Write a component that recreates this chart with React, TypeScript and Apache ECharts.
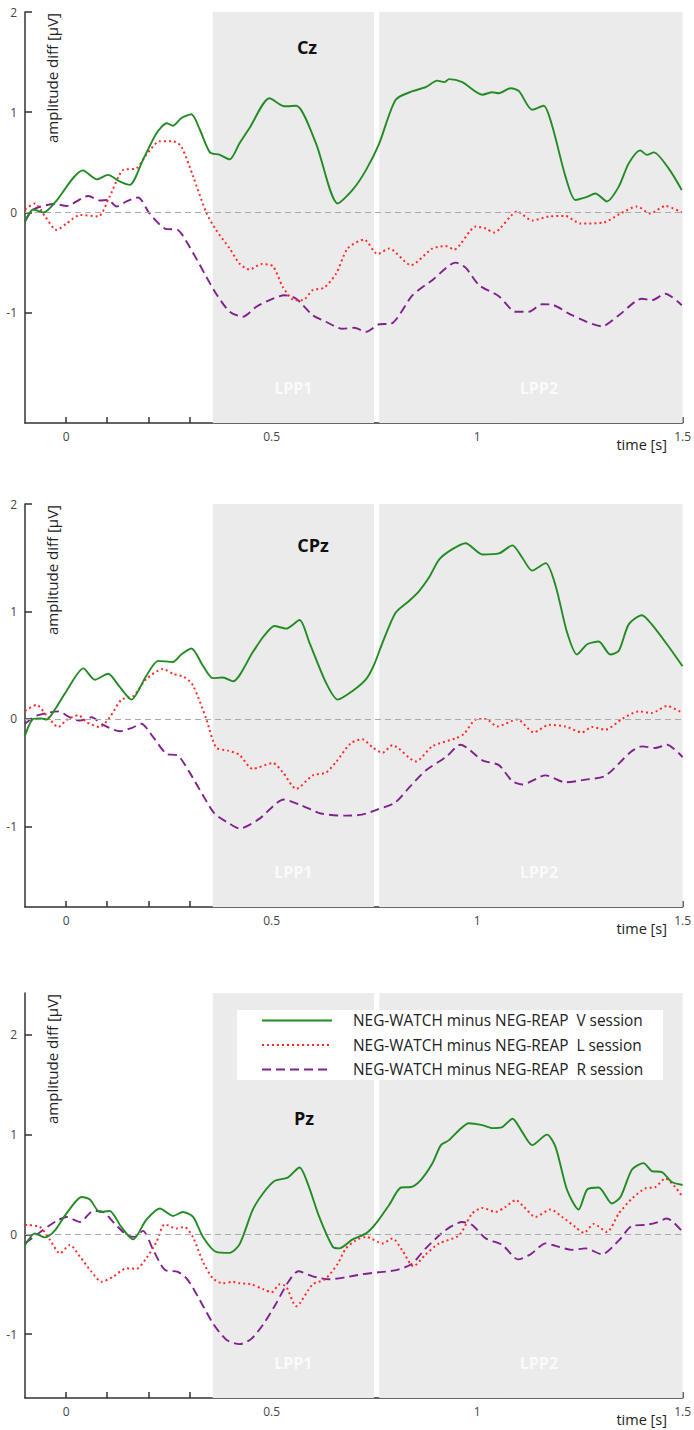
import React, { useEffect, useRef } from 'react';
import * as echarts from 'echarts';

const seriesNames = [
  'NEG-WATCH minus NEG-REAP  V session',
  'NEG-WATCH minus NEG-REAP  L session',
  'NEG-WATCH minus NEG-REAP  R session',
];
const panelTitles = ['Cz', 'CPz', 'Pz'];
const xTickValues = [0, 0.1, 0.2, 0.3, 0.4, 0.5, 0.6, 0.7, 0.8, 0.9, 1, 1.1, 1.2, 1.3, 1.4, 1.5];
const xLabelValues = [0, 0.5, 1, 1.5];
const yLabelValues = [-1, 0, 1, 2];
const lppNames = ['LPP1', 'LPP2'];
const lppStarts = [0.357, 0.762];
const lppEnds = [0.749, 1.5];

// Cz
const czV = [[-0.1,-0.09],[-0.08,0.03],[-0.055,0.0],[-0.027,0.1],[0.041,0.42],[0.075,0.33],[0.102,0.375],[0.13,0.31],[0.155,0.275],[0.187,0.525],[0.22,0.79],[0.245,0.89],[0.26,0.865],[0.28,0.94],[0.305,0.98],[0.325,0.83],[0.35,0.6],[0.374,0.575],[0.398,0.53],[0.422,0.69],[0.446,0.84],[0.495,1.14],[0.531,1.06],[0.56,1.065],[0.608,0.69],[0.661,0.09],[0.697,0.225],[0.73,0.425],[0.762,0.69],[0.802,1.125],[0.843,1.21],[0.875,1.25],[0.903,1.315],[0.92,1.3],[0.932,1.33],[0.964,1.3],[1.013,1.175],[1.037,1.2],[1.053,1.19],[1.082,1.24],[1.102,1.21],[1.134,1.025],[1.162,1.065],[1.183,0.86],[1.215,0.36],[1.239,0.125],[1.264,0.15],[1.288,0.19],[1.316,0.11],[1.345,0.26],[1.369,0.49],[1.397,0.62],[1.413,0.575],[1.43,0.6],[1.466,0.44],[1.498,0.225]];
const czL = [[-0.1,0.03],[-0.076,0.09],[-0.051,-0.04],[-0.023,-0.175],[0.001,-0.11],[0.034,-0.025],[0.078,-0.04],[0.106,0.16],[0.139,0.425],[0.171,0.44],[0.195,0.575],[0.228,0.71],[0.26,0.71],[0.28,0.66],[0.309,0.36],[0.341,0.0],[0.365,-0.175],[0.398,-0.36],[0.422,-0.51],[0.446,-0.57],[0.475,-0.515],[0.503,-0.535],[0.527,-0.74],[0.555,-0.875],[0.576,-0.875],[0.6,-0.775],[0.628,-0.75],[0.657,-0.61],[0.685,-0.36],[0.725,-0.27],[0.758,-0.415],[0.786,-0.36],[0.839,-0.525],[0.891,-0.36],[0.924,-0.335],[0.944,-0.37],[0.997,-0.14],[1.021,-0.16],[1.041,-0.2],[1.098,0.01],[1.134,-0.08],[1.175,-0.04],[1.215,-0.035],[1.251,-0.11],[1.308,-0.1],[1.349,-0.01],[1.389,0.06],[1.421,-0.01],[1.458,0.065],[1.498,0.0]];
const czR = [[-0.1,-0.09],[-0.08,0.03],[-0.027,0.085],[0.001,0.065],[0.054,0.165],[0.082,0.12],[0.102,0.125],[0.123,0.06],[0.147,0.11],[0.175,0.15],[0.203,-0.01],[0.24,-0.16],[0.272,-0.175],[0.3,-0.34],[0.341,-0.64],[0.365,-0.81],[0.398,-0.99],[0.43,-1.04],[0.463,-0.94],[0.495,-0.875],[0.531,-0.825],[0.56,-0.86],[0.6,-1.025],[0.632,-1.09],[0.673,-1.16],[0.701,-1.15],[0.73,-1.19],[0.762,-1.115],[0.79,-1.11],[0.843,-0.825],[0.891,-0.675],[0.948,-0.5],[0.972,-0.55],[1.005,-0.725],[1.053,-0.835],[1.094,-0.99],[1.126,-0.99],[1.158,-0.915],[1.183,-0.92],[1.231,-1.025],[1.304,-1.135],[1.345,-1.025],[1.401,-0.86],[1.425,-0.875],[1.458,-0.81],[1.498,-0.925]];

// CPz
const cpzV = [[-0.1,-0.155],[-0.08,0.0],[-0.062,0.005],[-0.047,-0.005],[-0.027,0.09],[0.001,0.26],[0.042,0.47],[0.07,0.365],[0.102,0.42],[0.131,0.295],[0.159,0.18],[0.195,0.4],[0.224,0.54],[0.26,0.53],[0.28,0.6],[0.305,0.655],[0.333,0.495],[0.357,0.38],[0.381,0.385],[0.406,0.35],[0.454,0.62],[0.479,0.76],[0.507,0.865],[0.535,0.84],[0.568,0.92],[0.592,0.71],[0.632,0.34],[0.661,0.18],[0.697,0.26],[0.73,0.37],[0.75,0.51],[0.77,0.71],[0.802,0.99],[0.835,1.1],[0.859,1.19],[0.883,1.315],[0.908,1.485],[0.94,1.58],[0.972,1.635],[1.013,1.53],[1.053,1.54],[1.086,1.615],[1.11,1.5],[1.134,1.38],[1.167,1.45],[1.191,1.24],[1.219,0.805],[1.243,0.6],[1.268,0.695],[1.296,0.72],[1.324,0.6],[1.345,0.635],[1.369,0.88],[1.401,0.965],[1.425,0.88],[1.462,0.695],[1.5,0.49]];
const cpzL = [[-0.1,0.075],[-0.072,0.13],[-0.047,0.03],[-0.019,-0.075],[0.001,-0.01],[0.03,0.035],[0.05,-0.03],[0.082,-0.075],[0.106,0.015],[0.135,0.18],[0.163,0.21],[0.195,0.37],[0.236,0.465],[0.26,0.42],[0.288,0.39],[0.309,0.31],[0.341,0.0],[0.365,-0.265],[0.394,-0.295],[0.422,-0.335],[0.454,-0.465],[0.503,-0.41],[0.527,-0.495],[0.56,-0.65],[0.6,-0.525],[0.632,-0.5],[0.657,-0.4],[0.693,-0.225],[0.721,-0.19],[0.746,-0.265],[0.77,-0.315],[0.794,-0.245],[0.851,-0.395],[0.891,-0.255],[0.948,-0.18],[0.968,-0.14],[0.997,-0.005],[1.021,0.0],[1.049,-0.07],[1.098,-0.005],[1.138,-0.125],[1.175,-0.055],[1.215,-0.07],[1.255,-0.125],[1.28,-0.075],[1.312,-0.1],[1.353,0.0],[1.393,0.07],[1.425,0.055],[1.462,0.12],[1.5,0.055]];
const cpzR = [[-0.1,-0.045],[-0.072,0.03],[-0.019,0.07],[0.009,0.015],[0.034,-0.015],[0.062,0.015],[0.09,-0.055],[0.131,-0.115],[0.159,-0.085],[0.183,-0.045],[0.212,-0.17],[0.244,-0.325],[0.272,-0.34],[0.3,-0.495],[0.333,-0.71],[0.361,-0.88],[0.398,-0.975],[0.422,-1.02],[0.47,-0.93],[0.53,-0.75],[0.57,-0.8],[0.62,-0.88],[0.68,-0.9],[0.72,-0.89],[0.76,-0.84],[0.8,-0.78],[0.839,-0.62],[0.875,-0.48],[0.924,-0.355],[0.96,-0.24],[1.013,-0.385],[1.053,-0.43],[1.086,-0.58],[1.11,-0.61],[1.167,-0.525],[1.215,-0.59],[1.264,-0.565],[1.312,-0.53],[1.373,-0.31],[1.401,-0.255],[1.434,-0.27],[1.462,-0.24],[1.5,-0.355]];

// Pz
const pzV = [[-0.1,-0.11],[-0.076,0.01],[-0.051,-0.03],[-0.027,0.04],[0.001,0.21],[0.038,0.375],[0.058,0.35],[0.082,0.225],[0.106,0.235],[0.135,0.07],[0.163,-0.05],[0.195,0.145],[0.228,0.26],[0.26,0.185],[0.284,0.225],[0.309,0.175],[0.333,-0.025],[0.365,-0.175],[0.398,-0.185],[0.422,-0.1],[0.454,0.245],[0.479,0.41],[0.507,0.535],[0.539,0.57],[0.568,0.67],[0.588,0.51],[0.616,0.175],[0.649,-0.125],[0.665,-0.14],[0.697,-0.05],[0.73,0.01],[0.754,0.11],[0.786,0.295],[0.815,0.47],[0.839,0.475],[0.863,0.545],[0.891,0.71],[0.912,0.895],[0.932,0.945],[0.956,1.045],[0.98,1.115],[1.013,1.095],[1.037,1.065],[1.061,1.075],[1.086,1.16],[1.11,1.025],[1.134,0.895],[1.17,1.0],[1.191,0.875],[1.219,0.445],[1.247,0.25],[1.268,0.45],[1.296,0.47],[1.328,0.31],[1.349,0.375],[1.377,0.65],[1.405,0.715],[1.425,0.635],[1.45,0.625],[1.474,0.525],[1.5,0.495]];
const pzL = [[-0.1,0.095],[-0.064,0.075],[-0.039,-0.055],[-0.015,-0.19],[0.009,-0.105],[0.034,-0.225],[0.062,-0.375],[0.086,-0.475],[0.114,-0.425],[0.147,-0.34],[0.171,-0.345],[0.195,-0.24],[0.22,-0.075],[0.24,0.1],[0.268,0.06],[0.288,0.075],[0.309,-0.03],[0.333,-0.275],[0.357,-0.44],[0.381,-0.49],[0.406,-0.475],[0.422,-0.49],[0.45,-0.5],[0.48,-0.55],[0.5,-0.58],[0.52,-0.5],[0.535,-0.52],[0.56,-0.72],[0.6,-0.5],[0.63,-0.45],[0.66,-0.3],[0.681,-0.14],[0.705,-0.06],[0.73,-0.025],[0.77,-0.09],[0.794,-0.04],[0.818,-0.16],[0.845,-0.32],[0.875,-0.2],[0.908,-0.09],[0.956,-0.01],[0.988,0.21],[1.013,0.265],[1.045,0.225],[1.069,0.275],[1.094,0.345],[1.114,0.275],[1.142,0.175],[1.179,0.25],[1.207,0.175],[1.239,0.075],[1.26,0.015],[1.284,0.105],[1.316,0.025],[1.345,0.21],[1.377,0.36],[1.409,0.46],[1.434,0.475],[1.458,0.56],[1.482,0.475],[1.5,0.375]];
const pzR = [[-0.1,-0.09],[-0.056,0.045],[-0.023,0.135],[0.001,0.175],[0.034,0.125],[0.066,0.235],[0.09,0.225],[0.118,0.11],[0.147,-0.005],[0.167,-0.025],[0.187,0.035],[0.212,-0.155],[0.24,-0.355],[0.272,-0.375],[0.296,-0.455],[0.325,-0.655],[0.357,-0.89],[0.39,-1.055],[0.422,-1.1],[0.45,-1.05],[0.48,-0.9],[0.51,-0.7],[0.54,-0.48],[0.565,-0.37],[0.6,-0.42],[0.64,-0.45],[0.68,-0.43],[0.72,-0.4],[0.76,-0.38],[0.8,-0.36],[0.84,-0.3],[0.875,-0.14],[0.924,0.045],[0.964,0.125],[0.988,0.095],[1.021,-0.04],[1.061,-0.105],[1.1,-0.25],[1.13,-0.2],[1.167,-0.09],[1.191,-0.115],[1.231,-0.155],[1.264,-0.14],[1.304,-0.2],[1.345,-0.06],[1.377,0.085],[1.409,0.095],[1.434,0.115],[1.462,0.16],[1.5,0.025]];

const panelData = [[czV, czL, czR], [cpzV, cpzL, cpzR], [pzV, pzL, pzR]];
const yMins = [-2.1, -1.75, -1.64];
const yMaxs = [2, 2, 2.42];

const FONT = '"Open Sans", "Noto Sans", sans-serif';
const gridTops = [12, 504, 993];
const gridHeights = [411, 403, 405];
const titlePos = [[307, 47], [313, 545], [304, 1118]];
const lineStyles = [
  { color: '#238b23', width: 1.9, type: 'solid' },
  { color: '#ff2a2a', width: 2, type: [2, 3] },
  { color: '#82208f', width: 1.9, type: [9, 5] },
];

export default function App() {
  const ref = useRef<HTMLDivElement>(null);
  useEffect(() => {
    if (!ref.current) return;
    const chart = echarts.init(ref.current, null, { renderer: 'svg' });
    const grid = gridTops.map((t, i) => ({ left: 25, top: t, width: 659, height: gridHeights[i] }));
    const xAxis = gridTops.map((_, i) => ({
      type: 'value', gridIndex: i, min: -0.1, max: 1.5,
      axisLine: { show: true, onZero: false, lineStyle: { color: '#333', width: 1.5 } },
      axisTick: { show: true, inside: true, length: 6, customValues: xTickValues, lineStyle: { color: '#333', width: 1.5 } },
      axisLabel: { customValues: xLabelValues, color: '#444', fontSize: 12, fontFamily: FONT, margin: 7,
        formatter: (v: number) => String(Math.round(v * 10) / 10) },
      splitLine: { show: false },
    }));
    const yAxis = gridTops.map((_, i) => ({
      type: 'value', gridIndex: i, min: yMins[i], max: yMaxs[i],
      axisLine: { show: true, onZero: false, lineStyle: { color: '#333', width: 1.5 } },
      axisTick: { show: true, inside: true, length: 7, customValues: yLabelValues, lineStyle: { color: '#333', width: 1.5 } },
      axisLabel: { customValues: yLabelValues, color: '#444', fontSize: 12, fontFamily: FONT, margin: 8 },
      splitLine: { show: false },
    }));
    const series: any[] = [];
    panelData.forEach((sets, i) => {
      series.push({
        type: 'line', xAxisIndex: i, yAxisIndex: i, data: [], z: 1, silent: true,
        markArea: {
          silent: true,
          itemStyle: { color: '#ebebeb' },
          label: { show: true, position: 'insideBottom', distance: 27, color: '#fafafa', fontWeight: 'bold', fontSize: 16, fontFamily: FONT },
          data: lppNames.map((n, k) => [
            { xAxis: lppStarts[k], name: n, label: k === 1 ? { offset: [8, 0] } : {} },
            { xAxis: lppEnds[k] },
          ]),
        },
        markLine: {
          silent: true, symbol: ['none', 'none'],
          lineStyle: { color: '#aaaaaa', width: 1, type: [6, 4] },
          label: { show: false },
          data: [{ yAxis: 0 }],
        },
      });
      sets.forEach((d, k) => {
        series.push({
          type: 'line', name: seriesNames[k], xAxisIndex: i, yAxisIndex: i, data: d,
          symbol: 'none', showSymbol: false, smooth: 0.25, z: 3 + (2 - k),
          lineStyle: lineStyles[k], itemStyle: { color: lineStyles[k].color },
        });
      });
    });
    const graphic: any[] = [];
    panelTitles.forEach((t, i) => {
      graphic.push({ type: 'text', x: titlePos[i][0], y: titlePos[i][1], z: 10,
        style: { text: t, fontSize: 18, fontWeight: 'bold', fontFamily: FONT, fill: '#111', align: 'center', verticalAlign: 'middle' } });
      graphic.push({ type: 'text', x: 52, y: gridTops[i] + 1, rotation: Math.PI / 2, z: 10,
        style: { text: 'amplitude diff [μV]', fontSize: 15, fontFamily: FONT, fill: '#222', align: 'right', verticalAlign: 'middle' } });
      graphic.push({ type: 'text', x: 667, y: gridTops[i] + gridHeights[i] + 21, z: 10,
        style: { text: 'time [s]', fontSize: 14.5, fontFamily: FONT, fill: '#222', align: 'right', verticalAlign: 'middle' } });
    });
    chart.setOption({
      animation: false,
      textStyle: { fontFamily: FONT },
      grid, xAxis, yAxis, series, graphic,
      legend: {
        data: seriesNames, orient: 'vertical', left: 237, top: 1010,
        backgroundColor: '#ffffff', padding: [3, 20, 3, 24],
        itemWidth: 70, itemHeight: 14, itemGap: 9.5,
        itemStyle: { opacity: 0, borderWidth: 0 },
        textStyle: { fontSize: 15.4, color: '#222', fontFamily: FONT, padding: [0, 0, 0, 16], lineHeight: 14 },
        selectedMode: false,
      },
    });
    return () => chart.dispose();
  }, []);
  return <div ref={ref} style={{ position: 'absolute', left: 0, top: 0, width: 694, height: 1430 }} />;
}
